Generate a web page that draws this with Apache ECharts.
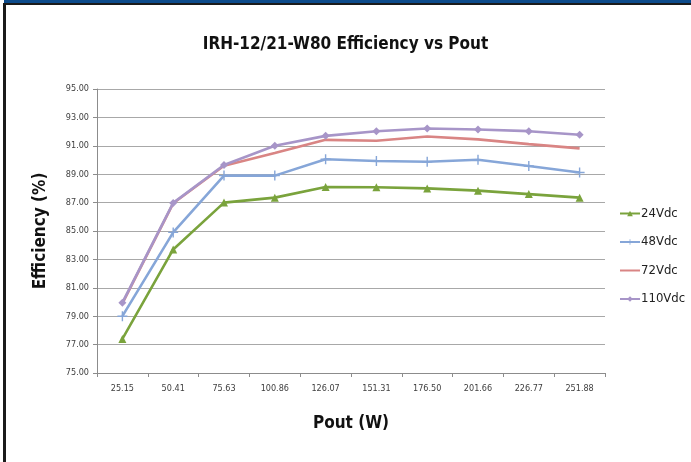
<!DOCTYPE html>
<html>
<head>
<meta charset="utf-8">
<script src="https://cdn.jsdelivr.net/npm/echarts@6/dist/echarts.min.js"></script>
<style>
  html, body { margin: 0; padding: 0; background: #fff; }
  #chart { width: 691px; height: 462px; }
</style>
</head>
<body>
<div id="chart"></div>
<script>
// categories (Pout, W)
const pout = ["25.15", "50.41", "75.63", "100.86", "126.07", "151.31", "176.50", "201.66", "226.77", "251.88"];

// efficiency (%) per input voltage
const eff24 = [77.4, 83.7, 87.0, 87.35, 88.1, 88.08, 88.0, 87.84, 87.6, 87.35];
const eff48 = [79.0, 84.9, 88.9, 88.9, 90.05, 89.93, 89.88, 90.02, 89.58, 89.12];
const eff72 = [79.9, 86.95, 89.6, 90.5, 91.42, 91.36, 91.65, 91.45, 91.12, 90.82];
const eff110 = [79.95, 86.98, 89.65, 91.0, 91.7, 92.02, 92.22, 92.15, 92.03, 91.78];

const names = ["24Vdc", "48Vdc", "72Vdc", "110Vdc"];

const yMin = 75, yMax = 95, yStep = 2;

const narrow = "'DejaVu Sans Condensed', 'Liberation Sans Narrow', sans-serif";
const plus = "path://M4.3,0H5.7V4.3H10V5.7H5.7V10H4.3V5.7H0V4.3H4.3Z";

const chart = echarts.init(document.getElementById("chart"));

function mkLine(name, data, color, symbol, size) {
    return {
        name: name,
        type: "line",
        data: data,
        symbol: symbol,
        symbolSize: size,
        showSymbol: symbol !== "none",
        lineStyle: { color: color, width: 2.6 },
        itemStyle: { color: color },
        emphasis: { disabled: true },
        animation: false,
    };
}

chart.setOption({
    backgroundColor: "#fff",
    title: {
        text: "IRH-12/21-W80 Efficiency vs Pout",
        left: "center",
        top: 31,
        textStyle: { fontFamily: narrow, fontSize: 17, fontWeight: "bold", color: "#111" },
    },
    graphic: [
        { type: "rect", shape: { x: 4, y: 0, width: 691, height: 3 }, style: { fill: "#0d4b8b" } },
        { type: "rect", shape: { x: 3, y: 3, width: 691, height: 2 }, style: { fill: "#1b1b1b" } },
        { type: "rect", shape: { x: 3, y: 3, width: 3, height: 462 }, style: { fill: "#1b1b1b" } },
    ],
    legend: {
        orient: "vertical",
        left: 614,
        top: 202,
        itemWidth: 20,
        itemHeight: 7,
        itemGap: 15.5,
        data: [
            { name: names[0] },
            { name: names[1] },
            { name: names[2], itemStyle: { opacity: 0 } },
            { name: names[3] },
        ],
        textStyle: { fontFamily: narrow, fontSize: 13, color: "#222", padding: [0, 0, 0, -4] },
    },
    grid: { left: 97, right: 86, top: 89, bottom: 89 },
    xAxis: {
        type: "category",
        data: pout,
        boundaryGap: true,
        name: "Pout (W)",
        nameLocation: "middle",
        nameGap: 42,
        nameTextStyle: { fontFamily: narrow, fontSize: 17, fontWeight: "bold", color: "#111" },
        axisLine: { lineStyle: { color: "#8c8c8c", width: 1 } },
        axisTick: { show: true, length: 4, lineStyle: { color: "#8c8c8c" } },
        axisLabel: { fontFamily: narrow, fontSize: 9, color: "#404040", margin: 11 },
        splitLine: { show: false },
    },
    yAxis: {
        type: "value",
        min: yMin,
        max: yMax,
        interval: yStep,
        name: "Efficiency (%)",
        nameLocation: "middle",
        nameGap: 48,
        nameTextStyle: { fontFamily: narrow, fontSize: 17, fontWeight: "bold", color: "#111" },
        axisLine: { show: true, lineStyle: { color: "#8c8c8c", width: 1 } },
        axisTick: { show: true, length: 4, lineStyle: { color: "#8c8c8c" } },
        axisLabel: {
            fontFamily: narrow, fontSize: 9, color: "#404040", margin: 8,
            formatter: (v) => v.toFixed(2),
        },
        splitLine: { lineStyle: { color: "#a8a8a8", width: 1 } },
    },
    series: [
        mkLine(names[0], eff24, "#7aa33c", "triangle", 8),
        mkLine(names[1], eff48, "#86a6d8", plus, 10),
        mkLine(names[2], eff72, "#d98584", "none", 0),
        mkLine(names[3], eff110, "#a795c8", "diamond", 8),
    ],
});
</script>
</body>
</html>
